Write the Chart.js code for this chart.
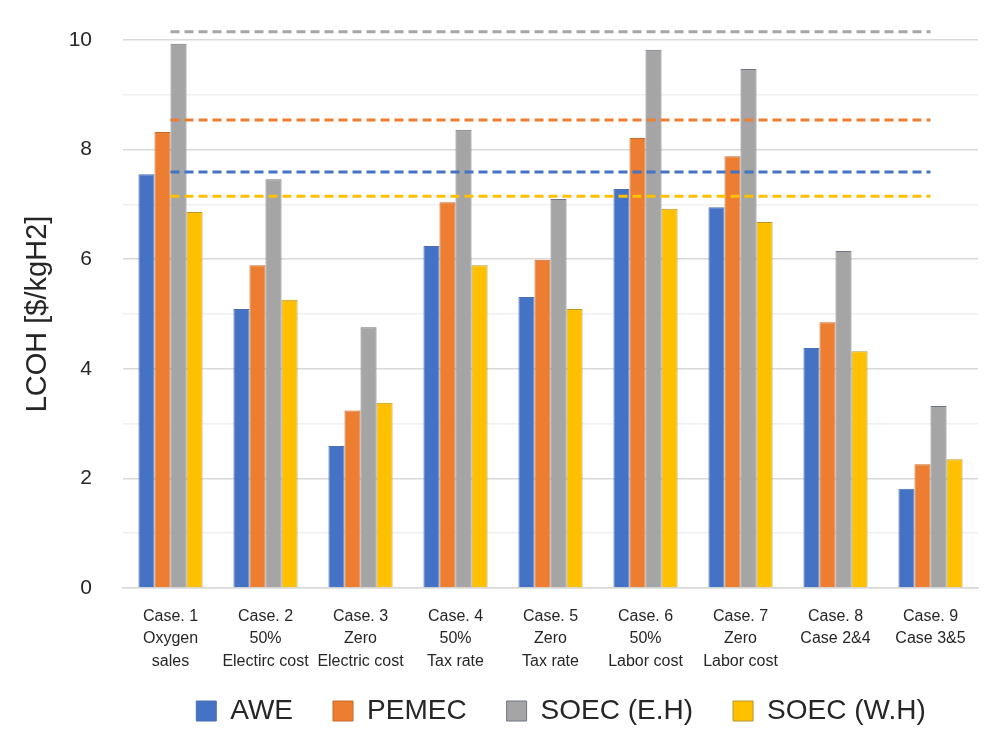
<!DOCTYPE html>
<html>
<head>
<meta charset="utf-8">
<script src="https://cdn.jsdelivr.net/npm/chart.js@4"></script>
<style>
  html, body { margin: 0; padding: 0; background: #fff; }
  #wrap { width: 1000px; height: 746px; }
</style>
</head>
<body>
<div id="wrap"><canvas id="lcohChart" width="1000" height="746"></canvas></div>
<script>
// LCOH by case and electrolyser type

const cases = [
    ['Case. 1', 'Oxygen', 'sales'],
    ['Case. 2', '50%', 'Electirc cost'],
    ['Case. 3', 'Zero', 'Electric cost'],
    ['Case. 4', '50%', 'Tax rate'],
    ['Case. 5', 'Zero', 'Tax rate'],
    ['Case. 6', '50%', 'Labor cost'],
    ['Case. 7', 'Zero', 'Labor cost'],
    ['Case. 8', 'Case 2&4'],
    ['Case. 9', 'Case 3&5']
];

const awe     = [7.55, 5.09, 2.59, 6.24, 5.31, 7.28, 6.95, 4.38, 1.81];
const pemec   = [8.32, 5.89, 3.24, 7.04, 5.99, 8.21, 7.88, 4.85, 2.26];
const soecEH  = [9.93, 7.46, 4.76, 8.36, 7.10, 9.82, 9.47, 6.15, 3.32];
const soecWH  = [6.86, 5.26, 3.38, 5.89, 5.09, 6.92, 6.68, 4.32, 2.35];

// reference (base case) levels drawn as dashed lines
const baseAWE = 7.59;
const basePEMEC = 8.54;
const baseSoecEH = 10.15;
const baseSoecWH = 7.15;

const yTicks = [0, 2, 4, 6, 8, 10];

const colors = {
    awe: '#4472C4',
    pemec: '#ED7D31',
    soecEH: '#A5A5A5',
    soecWH: '#FFC000'
};

function barSet(label, data, color, border) {
    return {
        type: 'bar',
        label: label,
        data: data,
        backgroundColor: color,
        borderColor: border,
        borderWidth: 1,
        order: 1,
        categoryPercentage: 0.675,
        barPercentage: 1.0
    };
}

function baseLine(value, color) {
    return {
        type: 'line',
        label: '',
        data: cases.map(() => value),
        borderColor: color,
        borderWidth: 3,
        borderDash: [9, 5],
        pointRadius: 0,
        fill: false,
        clip: false,
        order: 0
    };
}

// legend sits a bit right of centre in the original, and the
// 3-line x labels run into the legend box so don't clip them
const tweakLayout = {
    id: 'tweakLayout',
    afterLayout(chart) {
        chart.legend.left += 72;
        chart.legend.right += 72;
        chart.scales.x.bottom += 40;
    }
};

new Chart(document.getElementById('lcohChart'), {
    data: {
        labels: cases,
        datasets: [
            barSet('AWE', awe, colors.awe, '#4a6fb5'),
            barSet('PEMEC', pemec, colors.pemec, '#c8692d'),
            barSet('SOEC (E.H)', soecEH, colors.soecEH, '#6e7480'),
            barSet('SOEC (W.H)', soecWH, colors.soecWH, '#b8982a'),
            baseLine(baseSoecEH, colors.soecEH),
            baseLine(basePEMEC, colors.pemec),
            baseLine(baseAWE, colors.awe),
            baseLine(baseSoecWH, colors.soecWH)
        ]
    },
    plugins: [tweakLayout],
    options: {
        responsive: false,
        animation: false,
        layout: {
            padding: { top: 40, left: 0, right: 22, bottom: 11 }
        },
        plugins: {
            tooltip: { enabled: false },
            legend: {
                position: 'bottom',
                labels: {
                    filter: item => item.text !== '',
                    color: '#262626',
                    boxWidth: 20,
                    boxHeight: 20,
                    padding: 40,
                    font: { family: "'Liberation Sans', sans-serif", size: 28 }
                }
            }
        },
        scales: {
            x: {
                grid: { display: false },
                border: { color: '#d9d9d9', width: 1.5 },
                ticks: {
                    color: '#262626',
                    padding: 9,
                    maxRotation: 0,
                    autoSkip: false,
                    font: { family: "'Liberation Sans', sans-serif", size: 16, lineHeight: 1.42 }
                },
                afterFit: function (scale) { scale.height = 69; }
            },
            y: {
                min: 0,
                max: 10,
                afterBuildTicks: function (scale) {
                    const t = [];
                    for (let v = 0; v <= 10; v++) t.push({ value: v });
                    scale.ticks = t;
                },
                ticks: {
                    color: '#262626',
                    padding: 31,
                    font: { family: "'Liberation Sans', sans-serif", size: 21 },
                    callback: v => (yTicks.includes(v) ? v : '')
                },
                grid: {
                    drawTicks: false,
                    color: ctx => (ctx.tick && ctx.tick.value % 2 === 0 ? '#d9d9d9' : '#f0f0f0'),
                    lineWidth: 1.5
                },
                border: { display: false },
                title: {
                    display: true,
                    text: 'LCOH [$/kgH2]',
                    color: '#262626',
                    padding: { top: 21, bottom: 0 },
                    font: { family: "'Liberation Sans', sans-serif", size: 29 }
                },
                afterFit: function (scale) {
                    scale.width = 123;
                    scale.paddingTop = 0;
                    scale.paddingBottom = 0;
                }
            }
        }
    }
});
</script>
</body>
</html>
